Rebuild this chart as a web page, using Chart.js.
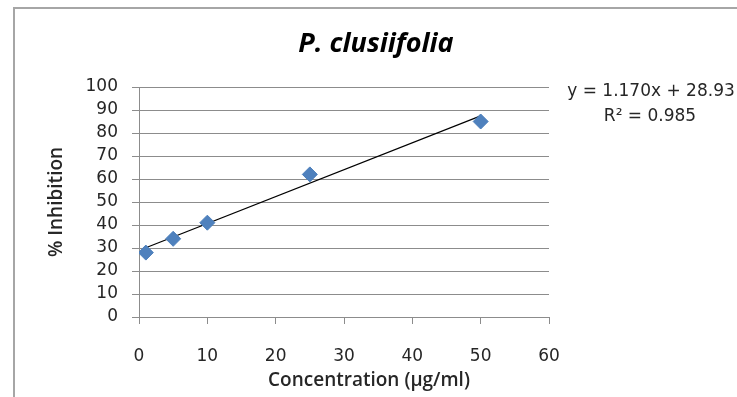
<!DOCTYPE html>
<html>
<head>
<meta charset="utf-8">
<script src="https://cdn.jsdelivr.net/npm/chart.js@4.4.1/dist/chart.umd.min.js"></script>
<style>
  html, body { margin: 0; padding: 0; background: #fff; }
</style>
</head>
<body>
<canvas id="inhibitionChart" width="737" height="397"></canvas>
<script>
// values
const concentration = [1, 5, 10, 25, 50];
const inhibition = [28, 34, 41, 62, 85];
const trendX = [1, 50];
const trendY = [30.1, 87.43];
const equationLines = ['y = 1.170x + 28.93', 'R² = 0.985'];
const chartTitle = 'P. clusiifolia';
const xTitle = 'Concentration (µg/ml)';
const yTitle = '% Inhibition';

const font = "'Open Sans', sans-serif";
const numFont = "'DejaVu Sans', sans-serif";
const gridGray = '#8c8c8c';
const textColor = '#262626';

const extras = {
    id: 'extras',
    beforeDraw(chart) {
        const ctx = chart.ctx;
        ctx.save();
        ctx.fillStyle = '#fff';
        ctx.fillRect(0, 0, chart.width, chart.height);
        // outer frame
        ctx.strokeStyle = '#a6a6a6';
        ctx.lineWidth = 2;
        ctx.beginPath();
        ctx.moveTo(14, 397);
        ctx.lineTo(14, 8);
        ctx.lineTo(737, 8);
        ctx.stroke();
        ctx.restore();
    },
    afterDraw(chart) {
        const ctx = chart.ctx;
        ctx.save();
        ctx.textAlign = 'center';
        ctx.textBaseline = 'middle';
        ctx.fillStyle = '#000';
        ctx.font = "italic bold 27px " + font;
        ctx.fillText(chartTitle, 376, 44);
        ctx.fillStyle = textColor;
        ctx.font = "600 19px " + font;
        ctx.fillText(xTitle, 369, 381);
        ctx.font = "17px " + numFont;
        ctx.fillText(equationLines[0], 651, 92);
        ctx.fillText(equationLines[1], 650, 117);
        ctx.restore();
    }
};

new Chart(document.getElementById('inhibitionChart'), {
    type: 'scatter',
    data: {
        datasets: [{
            label: 'data',
            data: concentration.map((x, i) => ({ x: x, y: inhibition[i] })),
            pointStyle: 'rectRot',
            pointRadius: 7.5,
            backgroundColor: '#4f81bd',
            borderColor: '#4a7ebb',
            borderWidth: 1,
            order: 1
        }, {
            type: 'line',
            label: 'trend',
            data: trendX.map((x, i) => ({ x: x, y: trendY[i] })),
            borderColor: '#000',
            borderWidth: 1.2,
            pointRadius: 0,
            order: 2
        }]
    },
    options: {
        responsive: false,
        devicePixelRatio: 1,
        animation: false,
        layout: { padding: { left: 14, right: 188, top: 87, bottom: 0 } },
        scales: {
            x: {
                type: 'linear',
                min: 0,
                max: 60,
                ticks: { stepSize: 10, padding: 22, autoSkip: false, maxRotation: 0, color: textColor, font: { family: numFont, size: 17 } },
                grid: { drawOnChartArea: false, tickLength: 7, color: gridGray },
                border: { color: gridGray },
                afterFit: s => { s.height = 80; }
            },
            y: {
                min: 0,
                max: 100,
                ticks: { stepSize: 10, padding: 14, autoSkip: false, color: textColor, font: { family: numFont, size: 17 } },
                grid: { tickLength: 7, color: gridGray },
                border: { color: gridGray },
                title: { display: true, text: yTitle, color: textColor, padding: { top: 31, bottom: 0 },
                         font: { family: font, size: 19, weight: '600', lineHeight: 1.2 } },
                afterFit: s => { s.width = 125; }
            }
        },
        plugins: {
            legend: { display: false },
            tooltip: { enabled: false },
            title: { display: false }
        }
    },
    plugins: [extras]
});
</script>
</body>
</html>
